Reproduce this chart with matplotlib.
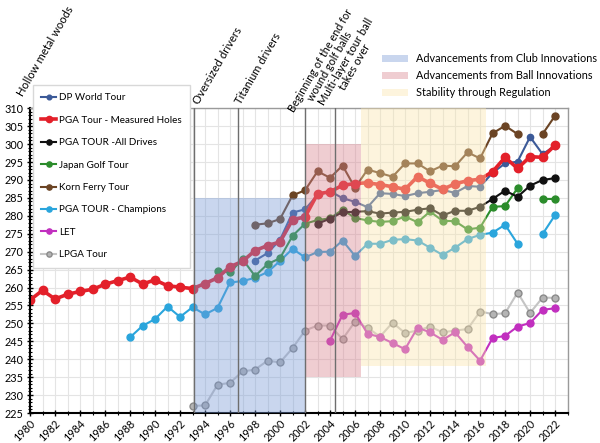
import numpy as np
import matplotlib
matplotlib.use("Agg")
import matplotlib.pyplot as plt
from matplotlib.ticker import MultipleLocator
from matplotlib.patches import Patch
import matplotlib.transforms as mtransforms

plt.rcParams['font.family'] = ['Lato', 'DejaVu Sans']

# ---------------- data ----------------
dp_years = list(range(1998, 2023))
dp_world = [267.5, 269.6, 273.3, 280.9, 281.8, 285.8, 286.9, 284.9, 283.9, 282.4,
            286.3, 286.1, 285.5, 286.3, 286.7, 287.2, 286.4, 288.3, 288.1, 292.0,
            294.6, 295.1, 302.0, 297.2, 299.5]

pga_years = list(range(1980, 2023))
pga_measured = [256.5, 259.2, 256.8, 258.1, 258.9, 259.5, 260.9, 261.9, 262.9, 261.0,
                262.1, 260.5, 260.1, 259.7, 261.1, 262.7, 265.8, 267.3, 270.3, 271.7,
                272.7, 278.9, 279.7, 286.1, 286.7, 288.5, 289.0, 289.2, 288.7, 288.1,
                287.4, 290.9, 289.1, 287.4, 288.9, 289.8, 290.2, 292.3, 296.3, 293.2,
                296.5, 296.3, 299.7]

all_years = list(range(2003, 2023))
pga_all = [277.8, 279.2, 281.0, 281.1, 281.3, 280.6, 280.9, 281.1, 281.7, 282.1,
           280.1, 281.4, 281.4, 282.5, 284.7, 287.0, 285.3, 288.4, 290.0, 290.5]

jp_years = list(range(1995, 2023))
japan = [264.6, 264.2, 267.9, 263.2, 266.5, 268.2, 274.4, 277.8, 278.8, 279.3,
         281.7, 279.4, 278.7, 278.3, 278.5, 279.8, 278.2, 281.2, 278.6, 278.5,
         276.2, 276.7, 282.5, 282.7, 287.7, np.nan, 284.7, 284.7]

kf_years = list(range(1998, 2023))
korn_ferry = [277.5, 277.9, 279.1, 285.7, 287.1, 292.4, 290.6, 294.0, 287.8, 292.9,
              291.9, 290.9, 294.6, 294.6, 292.4, 294.0, 293.8, 297.7, 296.0, 303.0,
              305.1, 302.8, np.nan, 302.8, 307.9]

ch_years = list(range(1988, 2023))
champions = [246.1, 249.3, 251.2, 254.7, 251.8, 254.5, 252.5, 254.3, 261.4, 261.8,
             262.7, 264.3, 267.4, 270.8, 268.4, 269.9, 270.0, 273.1, 268.8, 272.2,
             272.2, 273.3, 273.5, 273.1, 271.1, 269.1, 271.1, 273.5, 274.7, 275.3,
             277.5, 272.2, np.nan, 274.9, 280.2]

let_years = list(range(2004, 2023))
let = [245.2, 252.4, 252.9, 247.1, 246.2, 244.5, 242.8, 248.8, 247.5, 245.4,
       247.5, 243.4, 239.6, 245.9, 246.5, 249.1, 250.1, 253.8, 254.2]

lpga_years = list(range(1993, 2023))
lpga = [227.0, 227.1, 232.9, 233.4, 236.6, 237.1, 239.6, 239.1, 243.1, 248.0,
        249.4, 249.4, 245.6, 250.5, 248.8, 246.3, 250.2, 247.3, 248.0, 249.1,
        247.5, 248.0, 248.4, 253.3, 252.6, 252.8, 258.6, 252.9, 257.2, 257.1]

event_years = [1980, 1993.15, 1996.6, 2002.0, 2004.4]
event_labels = ["Hollow metal woods", "Oversized drivers", "Titanium drivers",
                "Beginning of the end for\nwound golf balls",
                "Multi-layer tour ball\ntakes over"]

region_labels = ["Advancements from Club Innovations",
                 "Advancements from Ball Innovations",
                 "Stability through Regulation"]
region_x = [(1993.15, 2002.0), (2002.0, 2006.5), (2006.5, 2016.5)]
region_y = [(225, 285), (235, 300), (238, 310)]
region_colors = ["#7899d6", "#d9828e", "#fae4ac"]
region_alpha = 0.4

# ---------------- figure ----------------
fig = plt.figure(figsize=(6, 4.43), dpi=100)
ax = fig.add_axes([0.05, 0.0677, 0.897, 0.688])

ax.set_xlim(1980, 2023.05)
ax.set_ylim(225, 310)
ax.xaxis.set_major_locator(MultipleLocator(2))
ax.xaxis.set_minor_locator(MultipleLocator(1))
ax.yaxis.set_major_locator(MultipleLocator(5))
ax.yaxis.set_minor_locator(MultipleLocator(1))
ax.grid(True, which='major', axis='y', color='#e4e4e4', lw=0.8, zorder=0)
ax.grid(True, which='both', axis='x', color='#e4e4e4', lw=0.8, zorder=0)
ax.set_axisbelow(True)

for s in ['left', 'bottom']:
    ax.spines[s].set_color('black')
    ax.spines[s].set_linewidth(1.5)
for s in ['top', 'right']:
    ax.spines[s].set_color('#9a9a9a')
    ax.spines[s].set_linewidth(1.0)

ax.tick_params(axis='both', which='major', direction='inout', length=5, width=1,
               labelsize=7.8, colors='black')
ax.tick_params(axis='both', which='minor', direction='inout', length=3, width=0.8)
ax.set_xticks(list(range(1980, 2023, 2)))
ax.set_xticklabels([str(y) for y in range(1980, 2023, 2)], rotation=45,
                   ha='right', rotation_mode='anchor')
ax.tick_params(axis='x', pad=1)
ax.tick_params(axis='y', pad=2)


def series(xs, ys, color, label, lw=1.5, ms=5, mfc=None, mec=None, z=2):
    return ax.plot(xs, ys, color=color, lw=lw, marker='o', ms=ms,
                   mfc=mfc if mfc else color, mec=mec if mec else color,
                   label=label, zorder=z)[0]


h_lpga = series(lpga_years, lpga, '#c4c4c4', 'LPGA Tour', mfc='#b4b4b4', mec='#8a8a8a')
h_let = series(let_years, let, '#c12fbf', 'LET')
h_ch = series(ch_years, champions, '#2aa5dc', 'PGA TOUR - Champions')
h_kf = series(kf_years, korn_ferry, '#6b4424', 'Korn Ferry Tour')
h_jp = series(jp_years, japan, '#2b8c2b', 'Japan Golf Tour')
h_all = series(all_years, pga_all, '#111111', 'PGA TOUR -All Drives')
h_dp = series(dp_years, dp_world, '#3c5a98', 'DP World Tour', ms=4.5)
h_pga = series(pga_years, pga_measured, '#e3202a', 'PGA Tour - Measured Holes',
               lw=2.6, ms=6, z=2.5)

# shaded regions (on top of lines so the lines appear faded)
for (x0, x1), (y0, y1), c in zip(region_x, region_y, region_colors):
    ax.fill_between([x0, x1], [y0, y0], [y1, y1], color=c, alpha=region_alpha,
                    lw=0, zorder=3)

# event lines and annotations
trans = mtransforms.blended_transform_factory(ax.transData, ax.transAxes)
text_offsets = [(-0.4, 1.032), (0.5, 1.008), (0.45, 1.008), (0.0, 0.962), (0.0, 0.985)]
text_sizes = [8.1, 8.1, 8.1, 7.8, 8.1]
for i, (x, lab) in enumerate(zip(event_years, event_labels)):
    if i > 0:
        ax.axvline(x, color='#6e6e6e', lw=1.0, zorder=4)
    dx, ty = text_offsets[i]
    ax.text(x + dx, ty, lab, transform=trans, rotation=60, rotation_mode='anchor',
            ha='left', va='bottom', fontsize=text_sizes[i], multialignment='center',
            color='black', linespacing=1.0, zorder=11)

# series legend
handles = [h_dp, h_pga, h_all, h_jp, h_kf, h_ch, h_let, h_lpga]
leg = ax.legend(handles=handles, loc='upper left', bbox_to_anchor=(0.055, 0.808),
                bbox_transform=fig.transFigure, fontsize=7.1, frameon=True,
                fancybox=False, edgecolor='#d8d8d8', framealpha=1,
                handlelength=1.5, handletextpad=0.25, labelspacing=1.36,
                borderpad=0.85, borderaxespad=0, markerscale=0.75)
leg.set_zorder(10)

# region legend
rh = [Patch(facecolor=c, alpha=region_alpha, lw=0) for c in region_colors]
fig.legend(handles=rh, labels=region_labels, loc='upper left',
           bbox_to_anchor=(0.63, 0.89), frameon=False, fontsize=7.8,
           handlelength=2.4, handleheight=0.6, handletextpad=0.75,
           labelspacing=0.55, borderaxespad=0)

fig.savefig('out.png', dpi=100)
